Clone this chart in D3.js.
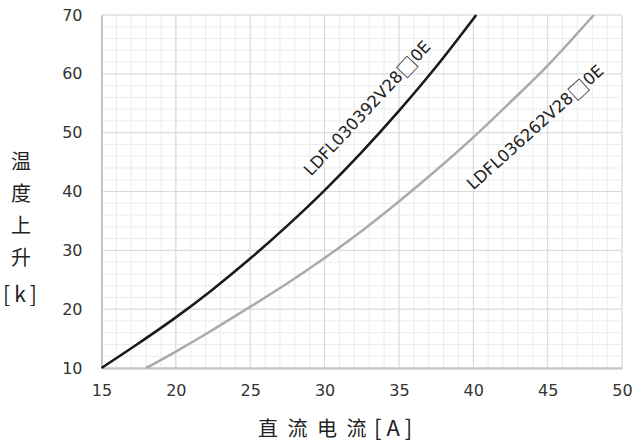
<!DOCTYPE html>
<html><head><meta charset="utf-8">
<script src="https://cdn.jsdelivr.net/npm/d3@7"></script>
<style>body{margin:0;background:#fff}</style>
</head><body><svg id="c" width="635" height="444"></svg>
<script>
// ---- data ----
const seriesNames = ["LDFL030392V28\u25A10E", "LDFL036262V28\u25A10E"];
const blackX = [15, 17.5, 20, 22.5, 25, 27.5, 30, 32.5, 35, 37.5, 40.2];
const blackY = [10, 14.2, 18.6, 23.4, 28.6, 34.2, 40.2, 46.7, 53.7, 61.2, 70];
const grayX = [18, 20, 22.5, 25, 27.5, 30, 32.5, 35, 37.5, 40, 42.5, 45, 48.1];
const grayY = [10, 12.8, 16.5, 20.4, 24.4, 28.7, 33.3, 38.3, 43.6, 49.2, 55.2, 61.4, 70];
const xTicks = [15, 20, 25, 30, 35, 40, 45, 50];
const yTicks = [10, 20, 30, 40, 50, 60, 70];
const xMinor = d3.range(15, 51, 1);
const yMinor = d3.range(10, 71, 2);
const xTitle = ["直", "流", "电", "流"];
const xUnit = "[A]";
const yTitle = ["温", "度", "上", "升"];
const yUnit = "[k]";

// ---- layout ----
const svg = d3.select("#c");
const L = 101.5, R = 622, T = 15, B = 368;
const x = d3.scaleLinear().domain([15, 50]).range([L, R]);
const y = d3.scaleLinear().domain([10, 70]).range([B, T]);
const cjk = "'Noto Sans CJK SC','Noto Sans CJK JP',sans-serif";
const lat = "'DejaVu Sans',Verdana,sans-serif";

// minor grid
const g = svg.append("g");
g.selectAll(".mx").data(xMinor).join("line")
  .attr("x1", d => x(d)).attr("x2", d => x(d)).attr("y1", T).attr("y2", B)
  .attr("stroke", "#ececec").attr("stroke-width", 1);
g.selectAll(".my").data(yMinor).join("line")
  .attr("y1", d => y(d)).attr("y2", d => y(d)).attr("x1", L).attr("x2", R)
  .attr("stroke", "#ececec").attr("stroke-width", 1);
// major grid
g.selectAll(".Mx").data(xTicks).join("line")
  .attr("x1", d => x(d)).attr("x2", d => x(d)).attr("y1", T).attr("y2", B)
  .attr("stroke", "#d9d9d9").attr("stroke-width", 1);
g.selectAll(".My").data(yTicks).join("line")
  .attr("y1", d => y(d)).attr("y2", d => y(d)).attr("x1", L).attr("x2", R)
  .attr("stroke", "#d9d9d9").attr("stroke-width", 1);

// axes
const xa = svg.append("g").attr("transform", `translate(0,${B})`)
  .call(d3.axisBottom(x).tickValues(xTicks).tickSize(0).tickPadding(17).tickFormat(d3.format("d")));
const ya = svg.append("g").attr("transform", `translate(${L},0)`)
  .call(d3.axisLeft(y).tickValues(yTicks).tickSize(0).tickPadding(19).tickFormat(d3.format("d")));
[xa, ya].forEach(a => {
  a.select(".domain").attr("stroke", "#c4c4c4").attr("stroke-width", 2);
  a.selectAll("text").attr("font-family", lat).attr("font-size", 16).attr("fill", "#333");
});

// curves
const line = d3.line().x(d => x(d[0])).y(d => y(d[1])).curve(d3.curveCatmullRom.alpha(0.5));
const blackData = blackX.map((v, i) => [v, blackY[i]]);
const grayData = grayX.map((v, i) => [v, grayY[i]]);
svg.append("path").datum(grayData).attr("d", line)
  .attr("fill", "none").attr("stroke", "#ababab").attr("stroke-width", 2.6);
svg.append("path").datum(blackData).attr("d", line)
  .attr("fill", "none").attr("stroke", "#1a1a1a").attr("stroke-width", 2.6);

// curve labels (box glyph drawn in CJK font for a larger square)
function curveLabel(name, tx, ty, ang) {
  const t = svg.append("text")
    .attr("transform", `translate(${tx},${ty}) rotate(${ang})`)
    .attr("text-anchor", "middle").attr("dominant-baseline", "central")
    .attr("font-family", lat).attr("font-size", 16.5).attr("fill", "#222");
  const k = name.indexOf("\u25A1");
  t.append("tspan").text(name.slice(0, k));
  t.append("tspan").attr("font-family", cjk).attr("font-size", 20).text(name[k]);
  t.append("tspan").text(name.slice(k + 1));
}
curveLabel(seriesNames[0], 367, 108, -47);
curveLabel(seriesNames[1], 535, 127, -42);

// x title
const xt = svg.append("text").attr("y", 436).attr("font-family", cjk)
  .attr("font-size", 20).attr("fill", "#222");
xTitle.forEach((c, i) => xt.append("tspan").attr("x", 258 + i * 29.5).text(c));
svg.append("text").text(xUnit).attr("x", 374).attr("y", 436)
  .attr("font-family", cjk).attr("font-size", 22).attr("letter-spacing", 5).attr("fill", "#222");

// y title
yTitle.forEach((c, i) => {
  svg.append("text").text(c).attr("x", 21).attr("y", 160 + i * 32)
    .attr("text-anchor", "middle").attr("dominant-baseline", "central")
    .attr("font-family", cjk).attr("font-size", 20).attr("fill", "#222");
});
svg.append("text").text(yUnit).attr("x", 22).attr("y", 293)
  .attr("text-anchor", "middle").attr("dominant-baseline", "central")
  .attr("font-family", cjk).attr("font-size", 21).attr("letter-spacing", 4).attr("fill", "#222");
</script></body></html>
